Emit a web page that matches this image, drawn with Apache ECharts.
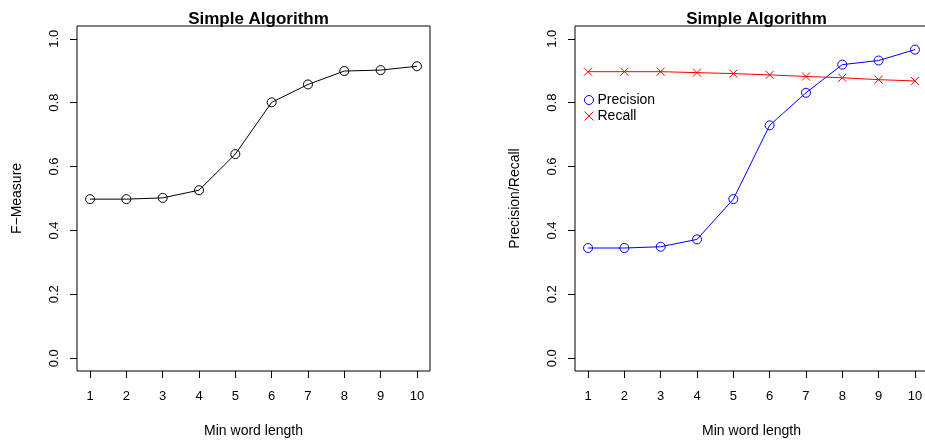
<!DOCTYPE html>
<html lang="en">
<head>
<meta charset="UTF-8">
<title>Simple Algorithm</title>
<script src="https://cdn.jsdelivr.net/npm/echarts@6/dist/echarts.min.js"></script>
<style>
  html, body { margin: 0; padding: 0; background: #fff; }
  #main { width: 925px; height: 440px; }
</style>
</head>
<body>
<div id="main"></div>
<script>
// data
var wordLength = [1, 2, 3, 4, 5, 6, 7, 8, 9, 10];
var fMeasure  = [0.498, 0.498, 0.502, 0.526, 0.639, 0.801, 0.857, 0.899, 0.902, 0.914];
var precision = [0.345, 0.345, 0.349, 0.372, 0.498, 0.729, 0.831, 0.919, 0.932, 0.966];
var recall    = [0.897, 0.897, 0.897, 0.894, 0.891, 0.887, 0.882, 0.878, 0.872, 0.868];
var yTicks = [0, 0.2, 0.4, 0.6, 0.8, 1.0];

var font = 'Liberation Sans, Arial, Helvetica, sans-serif';
var crossPath = 'path://M0,0L10,10M10,0L0,10';

function pairs(ys) {
    var out = [];
    for (var i = 0; i < wordLength.length; i++) out.push([wordLength[i], ys[i]]);
    return out;
}

function xAxis(idx) {
    return {
        type: 'value', gridIndex: idx, min: 0.64, max: 10.36,
        name: 'Min word length', nameLocation: 'middle', nameGap: 53,
        nameTextStyle: { color: '#000', fontSize: 14, fontFamily: font },
        axisLine: { show: false, onZero: false },
        splitLine: { show: false },
        axisTick: { show: true, inside: false, length: 7, customValues: wordLength,
                    lineStyle: { color: '#000' } },
        axisLabel: { customValues: wordLength, margin: 19, color: '#000', fontSize: 13, fontFamily: font }
    };
}

function yAxis(idx, title) {
    return {
        type: 'value', gridIndex: idx, min: -0.04, max: 1.04,
        name: title, nameLocation: 'middle', nameGap: 53, nameRotate: 90,
        nameTextStyle: { color: '#000', fontSize: 14, fontFamily: font },
        axisLine: { show: false, onZero: false },
        splitLine: { show: false },
        axisTick: { show: true, inside: false, length: 7, customValues: yTicks,
                    lineStyle: { color: '#000' } },
        axisLabel: { customValues: yTicks, rotate: 90, margin: 16, color: '#000', fontSize: 13, fontFamily: font,
                     formatter: function (v) { return v.toFixed(1); } }
    };
}

var chart = echarts.init(document.getElementById('main'));
chart.setOption({
    animation: false,
    backgroundColor: '#fff',
    textStyle: { fontFamily: font },
    title: [
        { text: 'Simple Algorithm', left: 253.5, top: 6, textAlign: 'center',
          textStyle: { fontSize: 17, fontWeight: 'bold', color: '#000', fontFamily: font } },
        { text: 'Simple Algorithm', left: 751.5, top: 6, textAlign: 'center',
          textStyle: { fontSize: 17, fontWeight: 'bold', color: '#000', fontFamily: font } }
    ],
    legend: {
        orient: 'vertical', left: 579, top: 88, itemWidth: 9, itemHeight: 9, itemGap: 2,
        textStyle: { color: '#000', fontSize: 14, fontFamily: font, padding: [0, 0, 0, -1] },
        data: [
            { name: 'Precision', icon: 'circle',
              itemStyle: { color: 'rgba(0,0,0,0)', borderColor: '#0000ff', borderWidth: 1 } },
            { name: 'Recall', icon: crossPath,
              itemStyle: { color: 'rgba(0,0,0,0)', borderColor: '#ff0000', borderWidth: 1 } }
        ]
    },
    grid: [
        { left: 77, top: 26, width: 353, height: 345, outerBoundsMode: 'none', containLabel: false,
          show: true, borderColor: '#000', borderWidth: 1, backgroundColor: 'transparent' },
        { left: 575, top: 26, width: 353, height: 345, outerBoundsMode: 'none', containLabel: false,
          show: true, borderColor: '#000', borderWidth: 1, backgroundColor: 'transparent' }
    ],
    xAxis: [xAxis(0), xAxis(1)],
    yAxis: [yAxis(0, 'F\u2212Measure'), yAxis(1, 'Precision/Recall')],
    series: [
        { name: 'F-Measure', type: 'line', xAxisIndex: 0, yAxisIndex: 0, data: pairs(fMeasure),
          symbol: 'circle', symbolSize: 9, z: 3,
          lineStyle: { color: '#000', width: 1 },
          itemStyle: { color: 'rgba(0,0,0,0)', borderColor: '#000', borderWidth: 1 } },
        { name: 'Precision', type: 'line', xAxisIndex: 1, yAxisIndex: 1, data: pairs(precision),
          symbol: 'circle', symbolSize: 9,
          lineStyle: { color: '#0000ff', width: 1 },
          itemStyle: { color: 'rgba(0,0,0,0)', borderColor: '#0000ff', borderWidth: 1 } },
        { name: 'Recall', type: 'line', xAxisIndex: 1, yAxisIndex: 1, data: pairs(recall),
          symbol: crossPath, symbolSize: 8,
          lineStyle: { color: '#ff0000', width: 1 },
          itemStyle: { color: 'rgba(0,0,0,0)', borderColor: '#ff0000', borderWidth: 1 } }
    ]
});
</script>
</body>
</html>
